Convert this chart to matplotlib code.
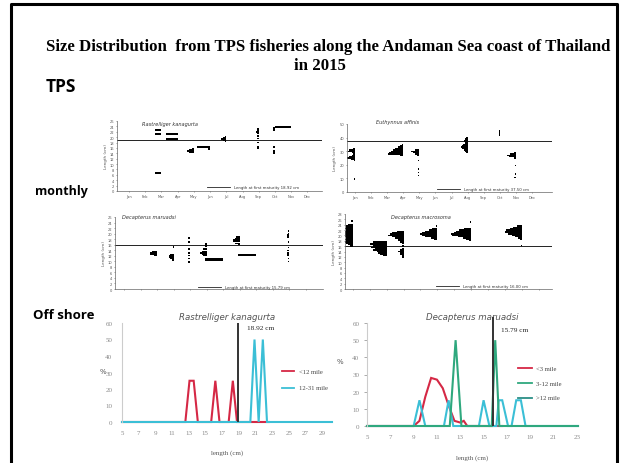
import numpy as np
import matplotlib
matplotlib.use("Agg")
import matplotlib.pyplot as plt
from matplotlib.lines import Line2D

# ---------------------------------------------------------------- data
MONTHS = ["Jan", "Feb", "Mar", "Apr", "May", "Jun",
          "Jul", "Aug", "Sep", "Oct", "Nov", "Dec"]

# Monthly length frequencies (month, length class in cm, number of fish)
# Rastrelliger kanagurta
rk_mon_month = [3, 3, 3, 4, 4, 5, 5, 5, 5, 5, 6, 6,
                7, 7, 7, 7, 7, 7, 7, 7, 7, 7, 7,
                9, 9, 9, 9, 9, 9, 9, 9, 9,
                10, 10, 10, 10, 10, 10, 10, 11]
rk_mon_len = [22.7, 21.2, 6.7, 21.2, 19.3, 15.6, 15.2, 14.9, 14.6, 14.3, 16.3, 15.6,
              22.0, 21.0, 20.0, 19.6, 19.3, 19.0, 18.5, 17.5, 16.5, 15.5, 14.5,
              23.2, 22.5, 22.0, 21.5, 20.5, 19.5, 18.0, 16.5, 16.0,
              23.5, 23.2, 22.8, 16.5, 15.0, 14.5, 14.0, 23.8]
rk_mon_n = [4, 4, 4, 7, 7, 1, 3, 4, 3, 1, 8, 1,
            0.4, 0.4, 1, 2, 3, 2, 1, 0.4, 0.4, 0.4, 0.4,
            1, 1, 1.5, 1, 1, 1, 1, 1, 1,
            1, 1.5, 1, 1, 1, 1.5, 1, 10]
rk_lm = 18.92

# Euthynnus affinis
ea_mon_month = [1] * 11 + [4] * 9 + [5] * 9 + [8] * 12 + [10] * 4 + [11] * 8
ea_mon_len = [32, 31, 30, 29, 28, 27, 26, 25, 24, 23, 9.5,
              35, 34, 33, 32, 31, 30, 29, 28, 27,
              31, 30, 29, 28, 27, 23, 17, 14.5, 12,
              40, 39, 38, 37, 36, 35, 34, 33, 32, 31, 30, 29,
              45, 44, 43, 42,
              29, 28, 27, 26, 25, 19.4, 13.2, 10.8]
ea_mon_n = [2, 5, 6, 3, 2, 3, 5, 7, 4, 1, 1,
            1, 3, 5, 7, 9, 11, 13, 14, 3,
            4, 7, 6, 4, 2, 1, 1, 1, 1,
            1, 2, 3, 3, 2, 4, 5, 6, 5, 3, 2, 1,
            0.5, 0.5, 0.5, 0.5,
            2, 5, 8, 6, 2, 1, 1, 1.5]
ea_lm = 37.5

# Decapterus maruadsi
dm_mon_month = [3] * 4 + [4] * 6 + [5] * 8 + [6] * 7 + [7] * 2 + [8] * 6 + [9] + [11] * 13
dm_mon_len = [13.5, 13, 12.5, 12,
              15.2, 12.5, 12, 11.5, 11, 10.5,
              18.4, 17, 14.4, 13, 12, 11, 10, 9.7,
              16.2, 15.5, 14.5, 13.5, 13, 12.5, 12,
              10.9, 10.4,
              18.8, 18.3, 17.8, 17.3, 16.5, 16,
              12.3,
              21, 20, 19.5, 19, 18.5, 17, 15, 14, 13, 12.5, 12, 11, 10]
dm_mon_n = [3, 4, 4, 2,
            0.5, 2, 3, 3, 2, 1,
            1, 1, 1, 1, 1.5, 1.5, 1, 1,
            1, 1, 2, 3, 4, 3, 2,
            11, 11,
            2, 3, 4, 4, 3, 1,
            11,
            0.5, 0.5, 1, 1.5, 1, 0.5, 0.5, 1, 1, 1.5, 1, 0.5, 0.5]
dm_lm = 15.79

# Decapterus macrosoma
dk_mon_month = [1] * 18 + [3] * 11 + [4] * 18 + [6] * 10 + [8] * 11 + [11] * 12
dk_mon_len = [25.4, 24, 23.5, 23, 22.5, 22, 21.5, 21, 20.5, 20, 19.5, 19, 18.5, 18, 17.5, 17, 16.5, 16,
              17.5, 17, 16.5, 16, 15.5, 15, 14.5, 14, 13.5, 13, 12.5,
              21.3, 21, 20.5, 20, 19.5, 19, 18.5, 18, 17.5, 17, 16, 15, 14.5, 14, 13.5, 13, 12.5, 12,
              23.5, 22.5, 22, 21.5, 21, 20.5, 20, 19.5, 19, 18.5,
              25, 22.5, 22, 21.5, 21, 20.5, 20, 19.5, 19, 18.5, 18,
              23.5, 23, 22.5, 22, 21.5, 21, 20.5, 20, 19.5, 19, 18.5, 16.3]
dk_mon_n = [1, 3, 4, 4, 5, 4, 5, 6, 5, 6, 5, 4, 5, 4, 5, 4, 3, 2,
            8, 10, 10, 8, 9, 7, 8, 6, 5, 4, 2,
            4, 7, 8, 9, 7, 5, 3, 3, 2, 1, 1, 1, 2, 3, 2, 2, 1, 1,
            0.5, 3, 5, 7, 9, 10, 9, 7, 4, 2,
            0.5, 4, 7, 9, 10, 12, 11, 8, 5, 3, 1,
            3, 5, 7, 9, 10, 10, 8, 6, 4, 2, 1, 0.5]
dk_lm = 16.0

# Offshore length frequency (%), Rastrelliger kanagurta
rk_off_len_a = [5, 12.6, 13.1, 13.6, 14.1, 15.7, 16.2, 16.7, 17.8, 18.3, 18.8, 22.6]
rk_off_pct_a = [0, 0, 25, 25, 0, 0, 25, 0, 0, 25, 0, 0]
rk_off_len_b = [5, 20.4, 20.9, 21.4, 21.9, 22.4, 30.2]
rk_off_pct_b = [0, 0, 50, 0, 50, 0, 0]
rk_off_labels = ["<12 mile", "12-31 mile"]

# Offshore length frequency (%), Decapterus maruadsi
dm_off_len_a = [5, 9.0, 9.5, 10.0, 10.5, 11.0, 11.5, 12.0, 12.5, 13.0, 13.3, 13.6, 16.6]
dm_off_pct_a = [0, 0, 3, 17, 28, 27, 22, 12, 3, 2, 3, 0, 0]
dm_off_len_b = [5, 12.1, 12.6, 13.1, 15.7, 16.0, 16.35, 23.1]
dm_off_pct_b = [0, 0, 50, 0, 0, 50, 0, 0]
dm_off_len_c = [5, 9.0, 9.5, 10.0, 11.6, 12.0, 12.4, 14.6, 15.0, 15.5,
                16.1, 16.3, 16.6, 17.1, 17.4, 17.8, 18.2, 18.6, 23.1]
dm_off_pct_c = [0, 0, 15, 0, 0, 15, 0, 0, 15, 0,
                0, 15, 15, 0, 0, 15, 15, 0, 0]
dm_off_labels = ["<3 mile", "3-12 mile", ">12 mile"]

# ---------------------------------------------------------------- figure
W, H = 627, 464
fig = plt.figure(figsize=(W / 100, H / 100), dpi=100)
fig.patch.set_facecolor("white")

RED = "#d52845"
CYAN = "#3bbfd6"
GREEN = "#2fa87e"
GREY = "#8a8a8a"
SERIF = "Liberation Serif"


def px_axes(x0, y0, x1, y1):
    return fig.add_axes([x0 / W, 1 - y1 / H, (x1 - x0) / W, (y1 - y0) / H])


def fig_text(x, y, s, **kw):
    fig.text(x / W, 1 - y / H, s, **kw)


def monthly_panel(box, month, length, count, lm, ylim, ystep, xlim, scale, bin_h,
                  title, title_pos, lm_text, key_pos, show_months=True):
    ax = px_axes(*box)
    month = np.asarray(month, float)
    w = np.asarray(count, float) * scale
    ax.barh(length, w, left=month - w, height=bin_h, color="black", linewidth=0)
    ax.axhline(lm, color="#222222", lw=0.7, zorder=0)
    ax.set_xlim(*xlim)
    ax.set_ylim(*ylim)
    ax.set_yticks(np.arange(ylim[0], ylim[1] + 0.01, ystep))
    ax.set_xticks(range(1, 13))
    ax.set_xticklabels(MONTHS if show_months else [""] * 12)
    ax.tick_params(labelsize=2.6, length=1, width=0.4, pad=1, colors="#555555")
    for s in ("top", "right"):
        ax.spines[s].set_visible(False)
    for s in ("left", "bottom"):
        ax.spines[s].set_linewidth(0.5)
        ax.spines[s].set_color("#666666")
    ax.set_ylabel("Length (cm)", fontsize=3, labelpad=1.5, color="#555555")
    ax.text(title_pos[0], title_pos[1], title, transform=ax.transAxes,
            fontsize=3.6, style="italic", va="center", color="#333333")
    kx, ky = key_pos
    ax.add_line(Line2D([kx, kx + 0.11], [ky, ky], transform=ax.transAxes,
                       color="#222222", lw=0.6))
    ax.text(kx + 0.13, ky, lm_text, transform=ax.transAxes, fontsize=2.8,
            va="center", color="#333333")
    return ax


def offshore_panel(box, series, colors, labels, lm, lm_top, lm_label_xy, xlim, xticks,
                   key_x, key_y, title, ytick_marks):
    ax = px_axes(*box)
    for (x, y), c in zip(series, colors):
        ax.plot(x, y, color=c, lw=1.5, clip_on=False, solid_joinstyle="miter")
    ax.vlines(lm, 0, lm_top, color="#333333", lw=1.4, clip_on=False, zorder=5)
    ax.text(lm_label_xy[0], lm_label_xy[1], f"{lm:.2f} cm", fontsize=5.2,
            family=SERIF, va="center", color="#222222")
    ax.set_xlim(*xlim)
    ax.set_ylim(0, 60)
    ax.set_xticks(xticks)
    ax.set_yticks(range(0, 61, 10))
    ax.tick_params(axis="x", length=0, labelsize=5, colors=GREY, pad=6)
    ax.tick_params(axis="y", length=2.5 if ytick_marks else 0, width=0.5,
                   labelsize=5, colors=GREY, pad=3 if ytick_marks else 7)
    for lab in ax.get_xticklabels() + ax.get_yticklabels():
        lab.set_family(SERIF)
    for s in ("top", "right", "bottom"):
        ax.spines[s].set_visible(False)
    ax.spines["left"].set_color("#cccccc")
    ax.spines["left"].set_linewidth(0.8)
    for lab, c, ky in zip(labels, colors, key_y):
        ax.add_line(Line2D([key_x, key_x + 0.06], [ky, ky], transform=ax.transAxes,
                           color=c, lw=1.3, clip_on=False))
        ax.text(key_x + 0.085, ky, lab, transform=ax.transAxes, fontsize=4.8,
                family=SERIF, va="center", color="#444444", clip_on=False)
    ax.set_title(title, fontsize=6.2, style="italic", color="#555555", pad=3)
    return ax


# ---- monthly panels
monthly_panel((117, 122, 322, 192), rk_mon_month, rk_mon_len, rk_mon_n, rk_lm,
              (0, 26), 2, (0.26, 12.9), 0.1, 0.7,
              "Rastrelliger kanagurta", (0.12, 0.97),
              f"Length at first maturity {rk_lm:.2f} cm", (0.44, 0.06))
monthly_panel((347, 125, 552, 193), ea_mon_month, ea_mon_len, ea_mon_n, ea_lm,
              (0, 50), 10, (0.5, 13.25), 0.07, 1.0,
              "Euthynnus affinis", (0.14, 1.04),
              f"Length at first maturity {ea_lm:.2f} cm", (0.44, 0.045))
monthly_panel((115, 218, 323, 290), dm_mon_month, dm_mon_len, dm_mon_n, dm_lm,
              (0, 26), 2, (0.45, 13.06), 0.1, 0.5,
              "Decapterus maruadsi", (0.035, 1.0),
              f"Length at first maturity {dm_lm:.2f} cm", (0.40, 0.03),
              show_months=False)
monthly_panel((345, 215, 552, 290), dk_mon_month, dk_mon_len, dk_mon_n, dk_lm,
              (0, 28), 2, (0.53, 12.8), 0.1, 0.5,
              "Decapterus macrosoma", (0.22, 0.97),
              f"Length at first maturity {dk_lm:.2f} cm", (0.44, 0.04),
              show_months=False)

# ---- offshore panels
ax_l = offshore_panel((122, 324, 332, 423),
                      [(rk_off_len_a, rk_off_pct_a), (rk_off_len_b, rk_off_pct_b)],
                      [RED, CYAN], rk_off_labels, rk_lm, 60, (20.0, 57),
                      (5, 30.2), range(5, 30, 2), 0.76, [0.515, 0.345],
                      "Rastrelliger kanagurta", False)
ax_l.set_xlabel("length (cm)", fontsize=5, family=SERIF, color="#555555", labelpad=10)
ax_l.text(-0.09, 0.52, "%", transform=ax_l.transAxes, fontsize=5, color="#555555",
          ha="center", va="center")

ax_r = offshore_panel((367, 324, 578, 427),
                      [(dm_off_len_a, dm_off_pct_a), (dm_off_len_c, dm_off_pct_c),
                       (dm_off_len_b, dm_off_pct_b)],
                      [RED, CYAN, GREEN], [], dm_lm, 63.5, (16.5, 56),
                      (5, 23.1), range(5, 24, 2), 0.72, [],
                      "Decapterus maruadsi", True)
for lab, c, ky in zip(dm_off_labels, [RED, GREEN, "#2b8f86"], [0.563, 0.417, 0.272]):
    ax_r.add_line(Line2D([0.716, 0.78], [ky, ky], transform=ax_r.transAxes,
                         color=c, lw=1.3))
    ax_r.text(0.8, ky, lab, transform=ax_r.transAxes, fontsize=4.8, family=SERIF,
              va="center", color="#444444")
ax_r.set_xlabel("length (cm)", fontsize=5, family=SERIF, color="#555555", labelpad=11)
ax_r.text(-0.13, 0.63, "%", transform=ax_r.transAxes, fontsize=5, color="#555555",
          ha="center", va="center")

# ---- slide frame and headings
fig.add_artist(Line2D([11 / W, 11 / W, 617 / W, 617 / W],
                      [0, 1 - 5 / H, 1 - 5 / H, 0], color="black", lw=2.2))
fig_text(328, 47, "Size Distribution  from TPS fisheries along the Andaman Sea coast of Thailand",
         fontsize=12.1, family=SERIF, weight="bold", ha="center", va="center")
fig_text(320, 66, "in 2015", fontsize=12.1, family=SERIF, weight="bold",
         ha="center", va="center")
fig_text(46, 87, "TPS", fontsize=12.5, family="Open Sans", weight="bold", va="center")
fig_text(35, 192, "monthly", fontsize=9, family="Open Sans", weight="bold", va="center")
fig_text(33, 316, "Off shore", fontsize=9.5, family="Open Sans", weight="bold", va="center")

fig.savefig("out.png", dpi=100, facecolor="white")
